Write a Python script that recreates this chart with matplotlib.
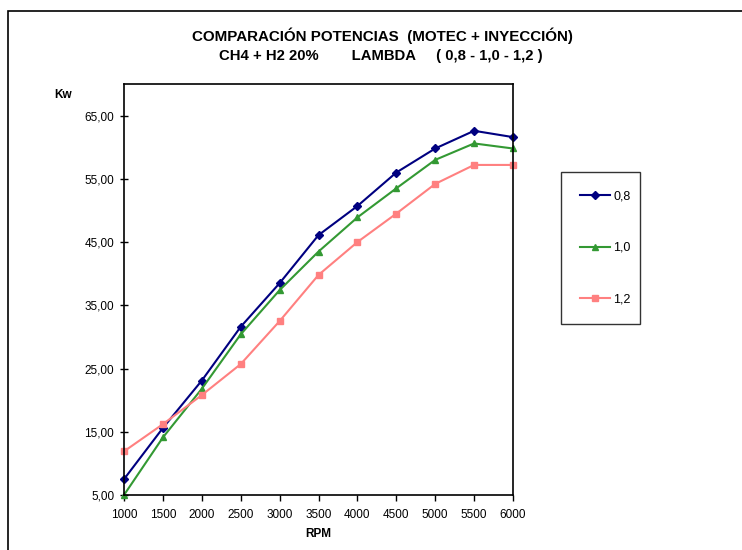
import matplotlib
matplotlib.use("Agg")
import matplotlib.pyplot as plt
from matplotlib.patches import Rectangle

plt.rcParams['font.family'] = ['Liberation Sans', 'DejaVu Sans']

rpm = [1000, 1500, 2000, 2500, 3000, 3500, 4000, 4500, 5000, 5500, 6000]
lambda_08 = [7.5, 15.6, 23.1, 31.6, 38.5, 46.1, 50.7, 56.0, 59.8, 62.6, 61.6]
lambda_10 = [5.0, 14.1, 21.8, 30.4, 37.4, 43.5, 48.9, 53.5, 58.0, 60.6, 59.8]
lambda_12 = [11.9, 16.2, 20.8, 25.7, 32.5, 39.8, 45.0, 49.5, 54.2, 57.2, 57.2]
labels = ["0,8", "1,0", "1,2"]
yticks = [5, 15, 25, 35, 45, 55, 65]

W, H = 742, 550
fig = plt.figure(figsize=(W / 100, H / 100), dpi=100)

# chart frame (only left/top visible in the original)
fig.patches.append(Rectangle((8 / W, -0.1), 1.2, 1 - 11 / H + 0.1, transform=fig.transFigure,
                             fill=False, edgecolor="black", linewidth=1.2))

ax = fig.add_axes([124 / W, 1 - 495 / H, (513 - 124) / W, (495 - 84) / H])

ax.plot(rpm, lambda_08, color="#000080", marker="D", markersize=4, linewidth=1.5, label=labels[0])
ax.plot(rpm, lambda_10, color="#339933", marker="^", markersize=5, linewidth=1.5, label=labels[1])
ax.plot(rpm, lambda_12, color="#FF8080", marker="s", markersize=4, linewidth=1.5, label=labels[2])

ax.set_xlim(1000, 6000)
ax.set_ylim(5, 70)
ax.set_xticks(rpm)
ax.set_xticklabels([str(r) for r in rpm], fontsize=8.5)
ax.set_yticks(yticks)
ax.set_yticklabels([f"{v},00" for v in yticks], fontsize=8.5)
ax.tick_params(axis="y", direction="inout", length=6, width=1, pad=4)
ax.tick_params(axis="x", direction="out", length=4, width=1, pad=6)
for s in ax.spines.values():
    s.set_linewidth(1.2)
    s.set_color("black")
for p in ax.lines:
    p.set_clip_on(False)

fig.text(382 / W, 1 - 36 / H, "COMPARACIÓN POTENCIAS  (MOTEC + INYECCIÓN)",
         ha="center", va="center", fontsize=10.9, fontweight="bold")
fig.text(381 / W, 1 - 56 / H, "CH4 + H2 20%        LAMBDA     ( 0,8 - 1,0 - 1,2 )",
         ha="center", va="center", fontsize=10.7, fontweight="bold")
fig.text(63 / W, 1 - 95 / H, "Kw", ha="center", va="center", fontsize=8.5, fontweight="bold")
fig.text(318 / W, 1 - 534 / H, "RPM", ha="center", va="center", fontsize=8.5, fontweight="bold")

leg = ax.legend(loc="center left", bbox_to_anchor=(561 / W, 1 - 325 / H, (640 - 561) / W, (325 - 171) / H),
                bbox_transform=fig.transFigure, mode="expand", fontsize=9, frameon=True,
                fancybox=False, labelspacing=3.15, handlelength=2.4, handletextpad=0.3,
                borderpad=1.5, borderaxespad=0)
leg.get_frame().set_edgecolor("black")
leg.get_frame().set_linewidth(1.0)

fig.savefig("out.png", dpi=100)
